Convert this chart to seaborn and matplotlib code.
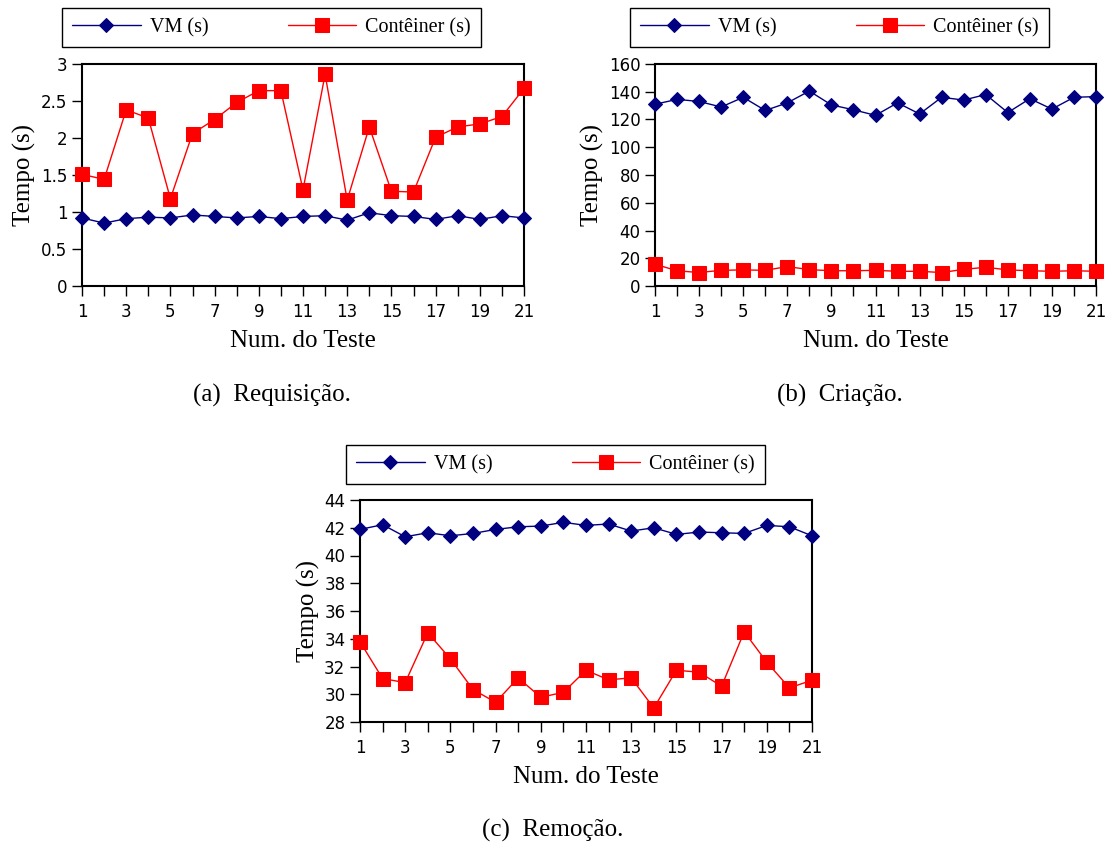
import numpy as np
import pandas as pd
import seaborn as sns
import matplotlib
matplotlib.use("Agg")
import matplotlib.pyplot as plt

# test numbers
testes = list(range(1, 22))

# (a) Requisicao
req_vm = [0.92, 0.85, 0.91, 0.93, 0.92, 0.96, 0.94, 0.92, 0.94, 0.91, 0.94,
          0.95, 0.89, 0.99, 0.95, 0.94, 0.90, 0.95, 0.90, 0.95, 0.92]
req_cont = [1.51, 1.44, 2.38, 2.27, 1.18, 2.06, 2.25, 2.48, 2.64, 2.64, 1.30,
            2.86, 1.16, 2.15, 1.28, 1.27, 2.01, 2.15, 2.19, 2.29, 2.67]

# (b) Criacao
cri_vm = [131, 134.5, 133, 129, 136, 126.5, 132, 140.5, 130.5, 127, 123,
          132, 124, 136, 134, 138, 125, 135, 127.5, 136, 136.5]
cri_cont = [15.7, 11.0, 9.7, 11.3, 11.6, 11.3, 14.0, 11.8, 11.0, 11.0, 11.3,
            10.6, 10.6, 9.7, 12.0, 13.5, 11.6, 11.0, 10.6, 11.0, 10.6]

# (c) Remocao
rem_vm = [41.88, 42.22, 41.35, 41.64, 41.42, 41.59, 41.88, 42.07, 42.12, 42.39, 42.17,
          42.27, 41.76, 42.00, 41.52, 41.69, 41.64, 41.59, 42.17, 42.07, 41.42]
rem_cont = [33.78, 31.13, 30.84, 34.43, 32.55, 30.34, 29.42, 31.18, 29.78, 30.14, 31.73,
            31.04, 31.18, 29.01, 31.73, 31.59, 30.58, 34.50, 32.31, 30.46, 31.01]

series_labels = ["VM (s)", "Contêiner (s)"]
captions = ["(a)  Requisição.", "(b)  Criação.", "(c)  Remoção."]

sns.set_style("ticks")
plt.rcParams["font.family"] = ["DejaVu Sans"]
plt.rcParams["text.color"] = "black"
plt.rcParams["axes.labelcolor"] = "black"
SERIF = "Liberation Serif"
VM_COLOR = "#000080"
CT_COLOR = "#ff0000"

W, H = 1106, 843
fig = plt.figure(figsize=(W / 100, H / 100), dpi=100)


def px_axes(x0, x1, y0, y1):
    return fig.add_axes([x0 / W, 1 - y1 / H, (x1 - x0) / W, (y1 - y0) / H])


def draw_panel(ax, vm, cont, yticks, ylabels, legend_box, caption, cap_xy, yl_x):
    sns.lineplot(x=testes, y=vm, ax=ax, color=VM_COLOR, marker="D", markersize=7,
                 markeredgecolor=VM_COLOR, linewidth=1, label=series_labels[0],
                 clip_on=False, zorder=3)
    sns.lineplot(x=testes, y=cont, ax=ax, color=CT_COLOR, marker="s", markersize=9.5,
                 markeredgecolor=CT_COLOR, linewidth=1, label=series_labels[1],
                 clip_on=False, zorder=3)
    ax.set_xlim(1, 21)
    ax.set_ylim(yticks[0], yticks[-1])
    ax.set_xticks(testes)
    ax.set_xticklabels([str(t) if t % 2 else "" for t in testes])
    ax.set_yticks(yticks)
    ax.set_yticklabels(ylabels)
    ax.tick_params(direction="out", length=7, width=1, labelsize=12, colors="black")
    ax.tick_params(axis="x", pad=5)
    for s in ax.spines.values():
        s.set_visible(True)
        s.set_linewidth(1.5)
        s.set_color("black")
    ax.set_xlabel("Num. do Teste", fontsize=18, family=SERIF, labelpad=7)
    ax.set_ylabel("Tempo (s)", fontsize=18, family=SERIF)
    ax.yaxis.set_label_coords(yl_x, 0.5)

    x0, x1, y0, y1 = legend_box
    leg = ax.legend(loc="upper left", bbox_to_anchor=(x0 / W, 1 - y0 / H),
                    bbox_transform=fig.transFigure, ncol=2,
                    prop={"family": SERIF, "size": 14.5}, frameon=True, fancybox=False,
                    edgecolor="black", handlelength=3.4, borderaxespad=0, borderpad=0.5,
                    handletextpad=0.45, columnspacing=3.95)
    leg.get_frame().set_linewidth(1)
    leg.get_frame().set_alpha(1)
    fig.text(cap_xy[0] / W, 1 - cap_xy[1] / H, caption, ha="center", va="center",
             family=SERIF, fontsize=18)


ax_a = px_axes(82, 524, 64, 286)
draw_panel(ax_a, req_vm, req_cont, [0, 0.5, 1, 1.5, 2, 2.5, 3],
           ["0", "0.5", "1", "1.5", "2", "2.5", "3"],
           (62, 483, 8, 45), captions[0], (272, 395), -0.103)

ax_b = px_axes(655, 1096, 64, 286)
draw_panel(ax_b, cri_vm, cri_cont, list(range(0, 161, 20)),
           [str(v) for v in range(0, 161, 20)],
           (630, 1050, 8, 45), captions[1], (840, 395), -0.115)

ax_c = px_axes(360, 812, 500, 722)
draw_panel(ax_c, rem_vm, rem_cont, list(range(28, 45, 2)),
           [str(v) for v in range(28, 45, 2)],
           (346, 765, 445, 481), captions[2], (553, 830), -0.088)

fig.savefig("out.png", dpi=100)
